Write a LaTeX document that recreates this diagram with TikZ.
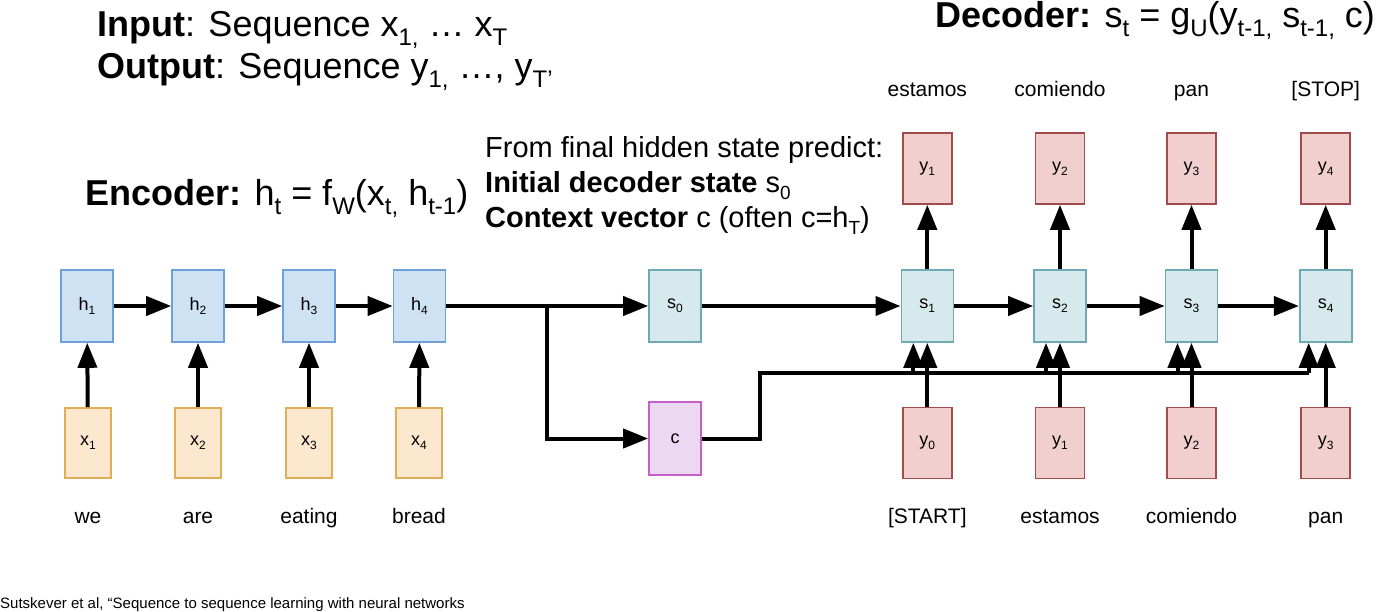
\documentclass[tikz,border=0pt]{standalone}
\usepackage{fontspec}
\setmainfont{Liberation Sans}
\usetikzlibrary{arrows.meta}
\newcommand{\lo}[3]{\raisebox{#1}{\fontsize{#2}{#2}\selectfont #3}}
\definecolor{hfill}{HTML}{CFE2F3}
\definecolor{hdraw}{HTML}{6FA0D8}
\definecolor{xfill}{HTML}{FCE8CF}
\definecolor{xdraw}{HTML}{E2AE55}
\definecolor{sfill}{HTML}{D6EAED}
\definecolor{sdraw}{HTML}{6FAAB4}
\definecolor{cfill}{HTML}{EDD8F3}
\definecolor{cdraw}{HTML}{C45FCB}
\definecolor{yfill}{HTML}{F2CFCF}
\definecolor{ydraw}{HTML}{A34A4A}
\begin{document}
\begin{tikzpicture}[x=1pt,y=-1pt,
  box/.style={draw, line width=1.6pt, inner sep=0pt, font=\fontsize{18}{18}\selectfont},
  hbox/.style={box, fill=hfill, draw=hdraw, minimum width=52pt, minimum height=72pt},
  xbox/.style={box, fill=xfill, draw=xdraw, minimum width=46pt, minimum height=70pt},
  sbox/.style={box, fill=sfill, draw=sdraw, minimum width=52pt, minimum height=72pt},
  cbox/.style={box, fill=cfill, draw=cdraw, minimum width=52pt, minimum height=73pt},
  ybox/.style={box, fill=yfill, draw=ydraw, minimum width=49pt, minimum height=71pt},
  conn/.style={line width=4pt, -{Triangle[length=25pt,width=19pt]}},
  wire/.style={line width=4pt},
  lbl/.style={anchor=base, font=\fontsize{21}{21}\selectfont, inner sep=0pt},
  head/.style={anchor=base west, inner sep=0pt, font=\fontsize{36}{36}\selectfont},
  note/.style={anchor=base west, inner sep=0pt, font=\fontsize{29}{29}\selectfont},
]
\useasboundingbox (0,0) rectangle (1376,612);
\fill[white] (0,0) rectangle (1376,612);

% headings
\node[head] (tin) at (97,37) {\textbf{Input}: Sequence x\lo{-9pt}{24}{1}\lo{-9pt}{24}{,} … x\lo{-9pt}{24}{T}};
\node[head] (tout) at (97,79) {\textbf{Output}: Sequence y\lo{-9pt}{24}{1}\lo{-9pt}{24}{,} …, y\lo{-9pt}{24}{T'}};
\node[head] (tdec) at (935,28) {\textbf{Decoder:} s\lo{-9pt}{24}{t} = g\lo{-9pt}{24}{U}(y\lo{-9pt}{24}{t-1,} s\lo{-9pt}{24}{t-1,} c)};
\node[head] (tenc) at (85,206) {\textbf{Encoder:} h\lo{-9pt}{24}{t} = f\lo{-9pt}{24}{W}(x\lo{-9pt}{24}{t,} h\lo{-9pt}{24}{t-1})};
\node[note] (n1) at (485,158) {From final hidden state predict:};
\node[note] (n2) at (485,193) {\textbf{Initial decoder state} s\lo{-7pt}{19}{0}};
\node[note] (n3) at (485,228) {\textbf{Context vector} c (often c=h\lo{-7pt}{19}{T})};

% encoder
\node[hbox] (h1) at (87,306) {h\lo{-4pt}{12}{1}};
\node[hbox] (h2) at (198,306) {h\lo{-4pt}{12}{2}};
\node[hbox] (h3) at (309,306) {h\lo{-4pt}{12}{3}};
\node[hbox] (h4) at (419.5,306) {h\lo{-4pt}{12}{4}};
\node[xbox] (x1) at (88,443) {x\lo{-4pt}{12}{1}};
\node[xbox] (x2) at (198,443) {x\lo{-4pt}{12}{2}};
\node[xbox] (x3) at (309,443) {x\lo{-4pt}{12}{3}};
\node[xbox] (x4) at (419,443) {x\lo{-4pt}{12}{4}};
\node[lbl] (w1) at (88,523) {we};
\node[lbl] (w2) at (198,523) {are};
\node[lbl] (w3) at (309,523) {eating};
\node[lbl] (w4) at (419,523) {bread};

% bridge
\node[sbox] (s0) at (675,306) {s\lo{-4pt}{12}{0}};
\node[cbox] (c) at (675,438.5) {c};

% decoder
\node[sbox] (s1) at (927.3,306) {s\lo{-4pt}{12}{1}};
\node[sbox] (s2) at (1060,306) {s\lo{-4pt}{12}{2}};
\node[sbox] (s3) at (1191.5,306) {s\lo{-4pt}{12}{3}};
\node[sbox] (s4) at (1325.7,306) {s\lo{-4pt}{12}{4}};
\node[ybox] (i1) at (927.3,443) {y\lo{-4pt}{12}{0}};
\node[ybox] (i2) at (1060,443) {y\lo{-4pt}{12}{1}};
\node[ybox] (i3) at (1191.5,443) {y\lo{-4pt}{12}{2}};
\node[ybox] (i4) at (1325.7,443) {y\lo{-4pt}{12}{3}};
\node[ybox] (o1) at (927.3,168.5) {y\lo{-4pt}{12}{1}};
\node[ybox] (o2) at (1060,168.5) {y\lo{-4pt}{12}{2}};
\node[ybox] (o3) at (1191.5,168.5) {y\lo{-4pt}{12}{3}};
\node[ybox] (o4) at (1325.7,168.5) {y\lo{-4pt}{12}{4}};
\node[lbl] (b1) at (927.3,523) {[START]};
\node[lbl] (b2) at (1060,523) {estamos};
\node[lbl] (b3) at (1191.5,523) {comiendo};
\node[lbl] (b4) at (1325.7,523) {pan};
\node[lbl] (a1) at (927.3,97) {estamos};
\node[lbl] (a2) at (1060,97) {comiendo};
\node[lbl] (a3) at (1191.5,97) {pan};
\node[lbl] (a4) at (1325.7,97) {[STOP]};

% footer
\begin{scope}
\clip (0,540) rectangle (463,612);
\node[anchor=base west, inner sep=0pt, font=\fontsize{15}{15}\selectfont] (ref) at (0,608) {Sutskever et al, “Sequence to sequence learning with neural networks”};
\end{scope}

% connectors: encoder
\draw[conn] (h1) -- (h2);
\draw[conn] (h2) -- (h3);
\draw[conn] (h3) -- (h4);
\draw[conn] (x1) -- (h1);
\draw[conn] (x2) -- (h2);
\draw[conn] (x3) -- (h3);
\draw[conn] (x4) -- (h4);
\draw[conn] (h4) -- (s0);
\coordinate (br) at (547,306);
\draw[conn] (br) |- (c);

% context line
\coordinate (cu) at (760,373);
\coordinate (t1) at ([xshift=-14pt]s1.south);
\coordinate (t2) at ([xshift=-14pt]s2.south);
\coordinate (t3) at ([xshift=-14pt]s3.south);
\coordinate (t4) at ([xshift=-17pt]s4.south);
\draw[conn] (c) -| (cu) -| (t1);
\draw[wire] (t1 |- cu) -- (t4 |- cu);
\draw[conn] (t2 |- cu) -- (t2);
\draw[conn] (t3 |- cu) -- (t3);
\draw[conn] (t4 |- cu) -- (t4);

% decoder
\draw[conn] (s0) -- (s1);
\draw[conn] (s1) -- (s2);
\draw[conn] (s2) -- (s3);
\draw[conn] (s3) -- (s4);
\draw[conn] (i1) -- (s1);
\draw[conn] (i2) -- (s2);
\draw[conn] (i3) -- (s3);
\draw[conn] (i4) -- (s4);
\draw[conn] (s1) -- (o1);
\draw[conn] (s2) -- (o2);
\draw[conn] (s3) -- (o3);
\draw[conn] (s4) -- (o4);
\end{tikzpicture}
\end{document}
